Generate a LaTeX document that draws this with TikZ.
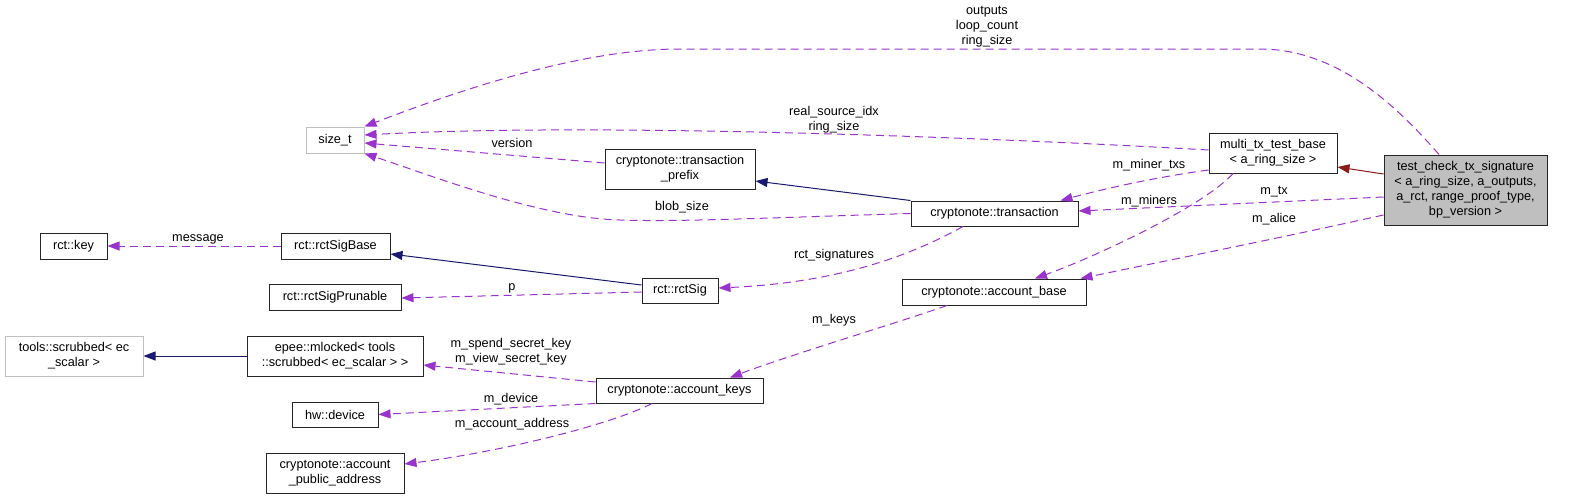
\documentclass[tikz,border=0pt]{standalone}
\usepackage{fontspec}
\setmainfont{Liberation Sans}
\usetikzlibrary{arrows.meta,calc}
\definecolor{usecol}{HTML}{9A32CD}
\definecolor{inhcol}{HTML}{191970}
\definecolor{tplcol}{HTML}{8B1A1A}
\definecolor{graybd}{HTML}{BFBFBF}
\definecolor{grayfill}{HTML}{BFBFBF}
\tikzset{
  cls/.style={draw=black!85, line width=1pt, fill=white, inner sep=0pt, align=center},
  extcls/.style={draw=graybd, line width=1pt, fill=white, inner sep=0pt, align=center},
  maincls/.style={draw=black!85, line width=1pt, fill=grayfill, inner sep=0pt, align=center},
  lbl/.style={inner sep=0pt, align=center},
  usearrow/.style={draw=usecol, line width=1pt, dash pattern=on 8pt off 5pt, -{Triangle[length=12pt,width=9pt,fill=usecol]}},
  inharrow/.style={draw=inhcol, line width=1pt, -{Triangle[length=12pt,width=9pt,fill=inhcol]}},
  tplarrow/.style={draw=tplcol, line width=1pt, -{Triangle[length=12pt,width=9pt,fill=tplcol]}},
}
\begin{document}
\begin{tikzpicture}[x=1pt,y=-1pt,font=\fontsize{12.7}{15}\selectfont]
\useasboundingbox (0,0) rectangle (1572,499);
% nodes
\node[extcls, minimum width=58pt, minimum height=26pt] (sizet) at (335,140) {size\_t};
\node[cls, minimum width=67pt, minimum height=26pt] (key) at (73.5,246) {rct::key};
\node[cls, minimum width=109pt, minimum height=26pt] (sigbase) at (335.5,246) {rct::rctSigBase};
\node[cls, minimum width=132pt, minimum height=26pt] (prunable) at (335,297) {rct::rctSigPrunable};
\node[extcls, minimum width=138pt, minimum height=40pt] (scrubbed) at (74,356) {tools::scrubbed< ec\\\_scalar >};
\node[cls, minimum width=176pt, minimum height=40pt] (mlocked) at (335,356) {epee::mlocked< tools\\::scrubbed< ec\_scalar > >};
\node[cls, minimum width=86pt, minimum height=25pt] (device) at (335,414.5) {hw::device};
\node[cls, minimum width=138pt, minimum height=40pt] (pubaddr) at (335,473) {cryptonote::account\\\_public\_address};
\node[cls, minimum width=150pt, minimum height=40pt] (prefix) at (680,169) {cryptonote::transaction\\\_prefix};
\node[cls, minimum width=167pt, minimum height=25pt] (tx) at (994.5,213.5) {cryptonote::transaction};
\node[cls, minimum width=76pt, minimum height=25pt] (rctsig) at (680,290.5) {rct::rctSig};
\node[cls, minimum width=184pt, minimum height=26pt] (accbase) at (994,292) {cryptonote::account\_base};
\node[cls, minimum width=167pt, minimum height=25pt] (acckeys) at (679.5,390.5) {cryptonote::account\_keys};
\node[cls, minimum width=128pt, minimum height=40pt] (multi) at (1273,153) {multi\_tx\_test\_base\\< a\_ring\_size >};
\node[maincls, minimum width=163pt, minimum height=70pt] (test) at (1465.5,190) {test\_check\_tx\_signature\\< a\_ring\_size, a\_outputs,\\a\_rct, range\_proof\_type,\\bp\_version >};

% connectors
\draw[usearrow] ($(test.north)+(-26.5,0)$) .. controls (1400,110) and (1340,49) .. (1260,49) -- (680,49) .. controls (580,49) and (460,90) .. (sizet.north east);
\draw[usearrow] ($(multi.west)+(0,-3)$) .. controls (1000,138) and (600,122) .. ($(sizet.east)+(0,-5)$);
\draw[usearrow] ($(prefix.west)+(0,-6)$) -- ($(sizet.east)+(0,3)$);
\draw[usearrow] (tx.west) .. controls (760,218) and (680,222) .. (620,220) .. controls (540,218) and (430,175) .. (sizet.south east);
\draw[usearrow] (sigbase.west) -- (key.east);
\draw[inharrow] (tx.north west) -- ($(prefix.east)+(0,12)$);
\draw[inharrow] ($(rctsig.west)+(0,-5.5)$) -- ($(sigbase.east)+(0,8)$);
\draw[usearrow] ($(rctsig.west)+(0,1.5)$) -- ($(prunable.east)+(0,1)$);
\draw[usearrow] ($(tx.south)+(-31.5,0)$) .. controls (920,250) and (850,282) .. ($(rctsig.east)+(0,-2.5)$);
\draw[usearrow] ($(multi.west)+(0,17)$) .. controls (1150,178) and (1100,190) .. ($(tx.north east)+(-18,0)$);
\draw[usearrow] ($(test.west)+(0,7)$) -- ($(tx.east)+(0,-2.5)$);
\draw[usearrow] ($(multi.south)+(-40,0)$) .. controls (1205,205) and (1100,255) .. ($(accbase.north)+(41,0)$);
\draw[usearrow] ($(test.west)+(0,25)$) .. controls (1280,238) and (1160,262) .. ($(accbase.north east)+(-6,0)$);
\draw[tplarrow] ($(test.west)+(0,-16)$) -- ($(multi.east)+(0,14)$);
\draw[usearrow] ($(accbase.south)+(-47,0)$) .. controls (900,322) and (790,355) .. ($(acckeys.north)+(50.5,0)$);
\draw[usearrow] ($(acckeys.west)+(0,-8.5)$) -- ($(mlocked.east)+(0,9)$);
\draw[usearrow] (acckeys.south west) -- (device.east);
\draw[usearrow] ($(acckeys.south)+(-27.5,0)$) .. controls (610,425) and (500,452) .. ($(pubaddr.east)+(0,-9)$);
\draw[inharrow] (mlocked.west) -- (scrubbed.east);

% labels
\node[lbl] (l1) at (987,27) {outputs\\loop\_count\\ring\_size};
\node[lbl] (l2) at (834,120) {real\_source\_idx\\ring\_size};
\node[lbl] (l3) at (512,143) {version};
\node[lbl] (l4) at (682,207) {blob\_size};
\node[lbl] (l5) at (198,239) {message};
\node[lbl] (l8) at (512,288) {p};
\node[lbl] (l9) at (834,255) {rct\_signatures};
\node[lbl] (l10) at (1149,165) {m\_miner\_txs};
\node[lbl] (l11) at (1274,192) {m\_tx};
\node[lbl] (l12) at (1149,201) {m\_miners};
\node[lbl] (l13) at (1274,219) {m\_alice};
\node[lbl] (l15) at (834,320) {m\_keys};
\node[lbl] (l16) at (511,352) {m\_spend\_secret\_key\\m\_view\_secret\_key};
\node[lbl] (l17) at (511,399) {m\_device};
\node[lbl] (l18) at (512,424) {m\_account\_address};
\end{tikzpicture}
\end{document}
